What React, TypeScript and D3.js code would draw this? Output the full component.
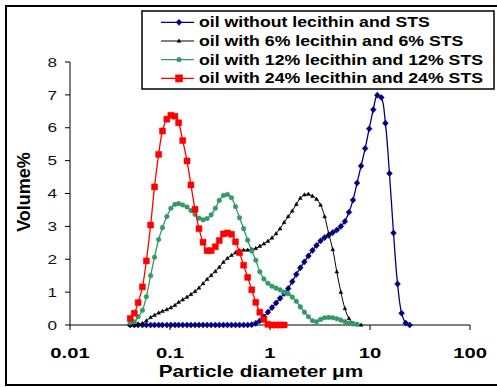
import React from 'react';
import * as d3 from 'd3';

// Particle size channels (µm)
const DIAMETERS = [0.040, 0.044, 0.048, 0.053, 0.058, 0.064, 0.070, 0.077, 0.084, 0.093,
  0.102, 0.112, 0.122, 0.134, 0.148, 0.162, 0.178, 0.195, 0.214, 0.235,
  0.258, 0.284, 0.311, 0.342, 0.375, 0.412, 0.452, 0.496, 0.545, 0.598,
  0.657, 0.721, 0.791, 0.868, 0.953, 1.047, 1.149, 1.261, 1.385, 1.520,
  1.669, 1.832, 2.010, 2.207, 2.423, 2.660, 2.920, 3.205, 3.519, 3.863,
  4.240, 4.655, 5.110, 5.610, 6.158, 6.760, 7.421, 8.147, 8.943, 9.818,
  10.78, 11.83, 12.99, 14.26, 15.65, 17.18, 18.86, 20.70, 22.73, 24.95];

// Volume % per channel
const OIL_ONLY = [0, 0, 0, 0, 0, 0, 0, 0, 0, 0,
  0, 0, 0, 0, 0, 0, 0, 0, 0, 0,
  0, 0, 0, 0, 0, 0, 0, 0, 0, 0,
  0.01, 0.05, 0.13, 0.25, 0.39, 0.53, 0.67, 0.81, 0.96, 1.11,
  1.32, 1.54, 1.74, 1.92, 2.10, 2.27, 2.42, 2.56, 2.66, 2.73,
  2.81, 2.89, 3.00, 3.15, 3.43, 3.80, 4.32, 4.84, 5.37, 5.97,
  6.55, 6.99, 6.92, 6.14, 4.61, 2.80, 1.25, 0.36, 0.06, 0];

const LEC6 = [0, 0, 0.02, 0.05, 0.13, 0.23, 0.30, 0.37, 0.42, 0.47,
  0.53, 0.60, 0.69, 0.77, 0.85, 0.93, 1.02, 1.13, 1.26, 1.39,
  1.51, 1.63, 1.76, 1.91, 2.03, 2.12, 2.20, 2.26, 2.28, 2.28,
  2.30, 2.33, 2.40, 2.47, 2.55, 2.65, 2.78, 2.93, 3.12, 3.30,
  3.47, 3.67, 3.86, 3.96, 3.98, 3.92, 3.83, 3.65, 3.30, 2.78,
  2.30, 1.62, 1.00, 0.50, 0.20, 0.06, 0.02, 0];

const LEC12 = [0.07, 0.10, 0.25, 0.45, 0.86, 1.50, 2.06, 2.60, 2.96, 3.30,
  3.55, 3.67, 3.69, 3.65, 3.59, 3.48, 3.36, 3.25, 3.20, 3.24,
  3.35, 3.55, 3.79, 3.94, 3.97, 3.87, 3.60, 3.26, 2.93, 2.58,
  2.25, 1.97, 1.62, 1.40, 1.27, 1.18, 1.12, 1.07, 1.00, 0.95,
  0.85, 0.72, 0.55, 0.39, 0.25, 0.13, 0.10, 0.17, 0.22, 0.23,
  0.22, 0.19, 0.15, 0.10, 0.05, 0.03, 0.02];

const LEC24 = [0.20, 0.36, 0.68, 1.16, 1.95, 3.04, 4.20, 5.19, 5.90, 6.26,
  6.38, 6.35, 6.15, 5.61, 4.99, 4.26, 3.52, 2.93, 2.52, 2.26,
  2.26, 2.38, 2.57, 2.77, 2.80, 2.76, 2.53, 2.20, 1.82, 1.45,
  1.07, 0.69, 0.39, 0.17, 0.02, 0, 0, 0, 0];

const SERIES_NAMES = [
  'oil without lecithin and STS',
  'oil with 6% lecithin and 6% STS',
  'oil with 12% lecithin and 12% STS',
  'oil with 24% lecithin and 24% STS',
];

const X_TICKS = [0.01, 0.1, 1, 10, 100];
const X_TICK_LABELS = ['0.01', '0.1', '1', '10', '100'];
const Y_TICKS = [0, 1, 2, 3, 4, 5, 6, 7, 8];

const FONT = '"Liberation Sans", Arial, sans-serif';
const SX = 1.32;

type Marker = 'diamond' | 'triangle' | 'circle' | 'square';

const markerPath = (m: Marker, s: number) => {
  switch (m) {
    case 'diamond':
      return `M0,${-3.1 * s}L${2.9 * s},0L0,${3.1 * s}L${-2.9 * s},0Z`;
    case 'triangle':
      return `M0,${-2.1 * s}L${1.9 * s},${1.3 * s}L${-1.9 * s},${1.3 * s}Z`;
    case 'circle':
      return d3.symbol(d3.symbolCircle, 17 * s * s)() as string;
    case 'square':
    default:
      return `M${-3 * s},${-3 * s}H${3 * s}V${3 * s}H${-3 * s}Z`;
  }
};

const SText = ({ x, y, sx = SX, children, ...rest }: any) => (
  <text transform={`translate(${x},${y}) scale(${sx},1)`} fontFamily={FONT} {...rest}>
    {children}
  </text>
);

export default function App() {
  const x = d3.scaleLog().domain([0.01, 100]).range([70, 470]);
  const y = d3.scaleLinear().domain([0, 8]).range([325, 62]);

  const series = [
    { name: SERIES_NAMES[0], values: OIL_ONLY, color: '#000080', marker: 'diamond' as Marker, lw: 1.3, ms: 1 },
    { name: SERIES_NAMES[1], values: LEC6, color: '#000000', marker: 'triangle' as Marker, lw: 1, ms: 1 },
    { name: SERIES_NAMES[2], values: LEC12, color: '#339966', marker: 'circle' as Marker, lw: 1.3, ms: 1 },
    { name: SERIES_NAMES[3], values: LEC24, color: '#FF0000', marker: 'square' as Marker, lw: 1.3, ms: 1 },
  ];

  const line = d3
    .line<[number, number]>()
    .x((d) => x(d[0]))
    .y((d) => y(d[1]))
    .curve(d3.curveCatmullRom.alpha(0.5));

  return (
    <svg width={497} height={387} style={{ position: 'absolute', left: 0, top: 0, background: '#fff' }}>
      <rect x={0} y={0} width={497} height={387} fill="#fff" />
      <rect x={6} y={6} width={520} height={379} fill="none" stroke="#000" strokeWidth={2} />

      {/* axes */}
      <line x1={70} x2={70} y1={y(8)} y2={y(0)} stroke="#000" strokeWidth={1} />
      <line x1={70} x2={470} y1={y(0)} y2={y(0)} stroke="#000" strokeWidth={1} />
      {Y_TICKS.map((t) => (
        <g key={'y' + t}>
          <line x1={65} x2={70} y1={y(t)} y2={y(t)} stroke="#000" />
          <SText x={57} y={y(t) + 4.7} textAnchor="end" fontSize={13} fill="#111">
            {t}
          </SText>
        </g>
      ))}
      {X_TICKS.map((t, i) => (
        <g key={'x' + t}>
          <line x1={x(t)} x2={x(t)} y1={y(0)} y2={y(0) + 5} stroke="#000" />
          <SText x={x(t)} y={358} textAnchor="middle" fontSize={15} fontWeight="bold" sx={1.35}>
            {X_TICK_LABELS[i]}
          </SText>
        </g>
      ))}

      <SText x={261} y={377} textAnchor="middle" fontSize={16} fontWeight="bold" sx={1.3}>
        Particle diameter μm
      </SText>
      <text
        transform={`translate(30,192) rotate(-90)`}
        textAnchor="middle"
        fontFamily={FONT}
        fontSize={18}
        fontWeight="bold"
      >
        Volume%
      </text>

      {/* series */}
      {series.map((s) => {
        const pts: [number, number][] = s.values.map((v, i) => [DIAMETERS[i], v]);
        return (
          <g key={s.name}>
            <path d={line(pts) as string} fill="none" stroke={s.color} strokeWidth={s.lw} />
            {pts.map((p, i) => (
              <path
                key={i}
                d={markerPath(s.marker, s.ms)}
                transform={`translate(${x(p[0])},${y(p[1])})`}
                fill={s.color}
                stroke={s.color}
                strokeWidth={0.5}
              />
            ))}
          </g>
        );
      })}

      {/* legend */}
      <rect x={142} y={11} width={352} height={78} fill="#fff" stroke="#000" strokeWidth={1.5} />
      {series.map((s, i) => {
        const cy = 22.3 + i * 18.7;
        return (
          <g key={'leg' + i}>
            <line x1={161} x2={194} y1={cy} y2={cy} stroke={s.color} strokeWidth={s.lw} />
            <path
              d={markerPath(s.marker, s.marker === 'square' ? 1.2 : 1)}
              transform={`translate(179,${cy})`}
              fill={s.color}
              stroke={s.color}
              strokeWidth={0.5}
            />
            <SText x={199} y={cy + 5} fontSize={15} fontWeight="bold" sx={1.18}>
              {s.name}
            </SText>
          </g>
        );
      })}
    </svg>
  );
}
